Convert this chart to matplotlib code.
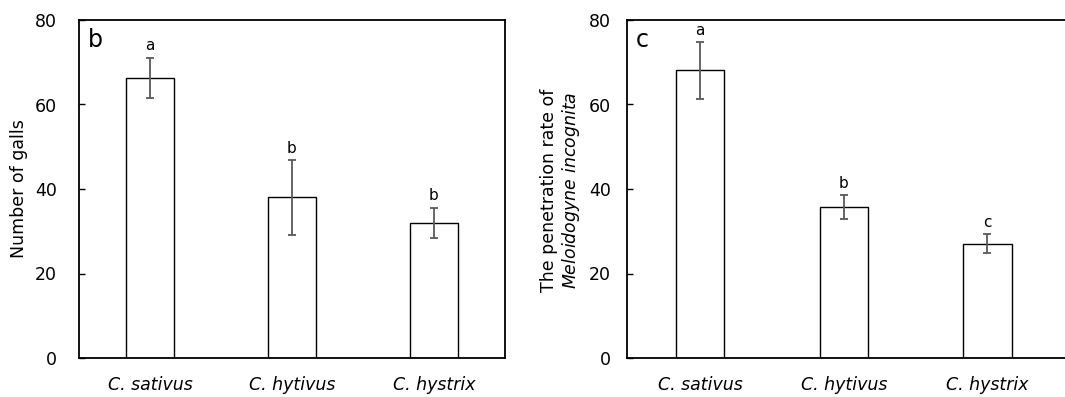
import numpy as np
import matplotlib.pyplot as plt

plt.rcParams['font.family'] = 'DejaVu Sans'
plt.rcParams['mathtext.fontset'] = 'dejavusans'

# Dane
species = ['C. sativus', 'C. hytivus', 'C. hystrix']

galls_mean = [66.3, 38.0, 32.0]
galls_err = [4.8, 8.9, 3.6]
galls_letters = ['a', 'b', 'b']

penetration_mean = [68.1, 35.7, 27.1]
penetration_err = [6.7, 2.8, 2.3]
penetration_letters = ['a', 'b', 'c']

W, H = 1065, 397
fig = plt.figure(figsize=(W / 100, H / 100), dpi=100)


def draw_panel(ax, means, errs, letters, panel, ypad):
    x = np.arange(len(species))
    ax.bar(x, means, width=0.335, color='white', edgecolor='black', linewidth=1.0, zorder=2)
    ax.errorbar(x, means, yerr=errs, fmt='none', ecolor='#595959', elinewidth=1.3,
                capsize=2.7, capthick=1.3, zorder=3)
    for xi, m, e, lt in zip(x, means, errs, letters):
        ax.annotate(lt, (xi, m + e), xytext=(0, 3), textcoords='offset points',
                    ha='center', va='bottom', fontsize=11)
    ax.set_ylim(0, 80)
    ax.set_yticks([0, 20, 40, 60, 80])
    ax.set_xticks(x)
    ax.set_xticklabels(species, fontstyle='italic', fontsize=12.5)
    ax.tick_params(axis='y', direction='in', length=4, width=1, labelsize=12.5, pad=ypad)
    ax.tick_params(axis='x', length=0, pad=13)
    for s in ax.spines.values():
        s.set_linewidth(1.3)
        s.set_color('black')
    ax.text(0.02, 0.975, panel, transform=ax.transAxes, fontsize=17, ha='left', va='top')


# Panel b
ax1 = fig.add_axes([79 / W, 1 - 358 / H, 426 / W, 338 / H])
draw_panel(ax1, galls_mean, galls_err, galls_letters, 'b', 16)
ax1.set_xlim(-0.5, 2.5)
fig.text(19.5 / W, 1 - 189 / H, 'Number of galls', rotation=90, ha='center', va='center',
         fontsize=12.5)

# Panel c
ax2 = fig.add_axes([627.3 / W, 1 - 358 / H, (1068 - 627.3) / W, 338 / H])
draw_panel(ax2, penetration_mean, penetration_err, penetration_letters, 'c', 12)
ax2.set_xlim(-0.505, 2.56)
fig.text(561 / W, 1 - 190 / H,
         'The penetration rate of\n$\\mathit{Meloidogyne\\ incognita}$',
         rotation=90, ha='center', va='center', fontsize=12.5, linespacing=1.1)

fig.savefig('out.png', dpi=100)
